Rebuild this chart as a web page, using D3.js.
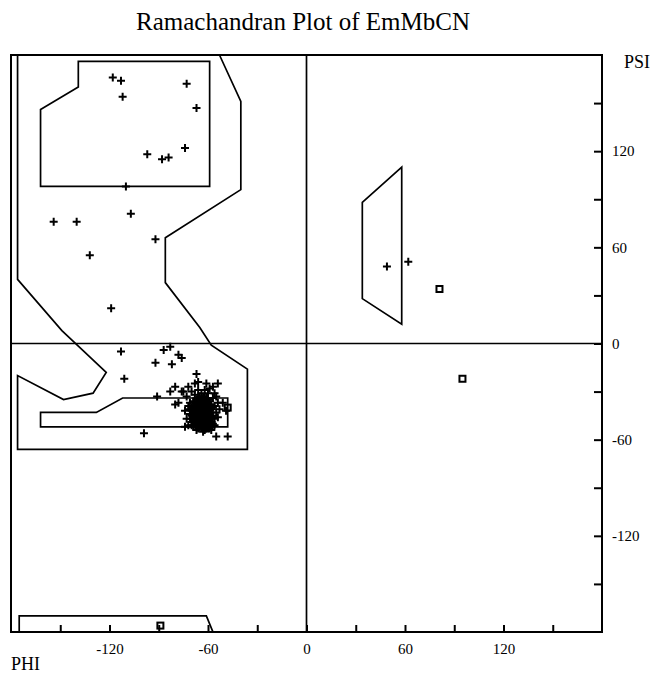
<!DOCTYPE html>
<html>
<head>
<meta charset="utf-8">
<script src="https://cdn.jsdelivr.net/npm/d3@7"></script>
<style>
  body { margin: 0; background: #fff; }
  text { font-family: "Liberation Serif", "DejaVu Serif", serif; fill: #000; }
</style>
</head>
<body>
<div id="chart"></div>
<script>
// regions of the plot, [phi, psi] in degrees
var outerRegion = [[-176,180],[-176,40],[-149,8],[-122,-18],[-130,-31],[-148,-35],[-176,-20],
  [-176,-66],[-36,-66],[-36,-16],[-58,-1],[-65,10],[-86,38],[-86,66],[-40,96],[-40,151],[-53,180]];
var betaCore = [[-139,176],[-59,176],[-59,98],[-162,98],[-162,146],[-139,160]];
var alphaCore = [[-162,-43],[-128,-43],[-112,-34],[-48,-34],[-48,-52],[-162,-52]];
var bottomRegion = [[-175,-180],[-175,-170],[-61,-170],[-57,-180]];
var leftHanded = [[58,110],[34,88],[34,28],[58,12]];

// residues (crosses)
var scattered = [[-118,166],[-113,164],[-112,154],[-73,162],[-67,147],[-97,118],[-88,115],[-84,116],
  [-74,122],[-110,98],[-154,76],[-140,76],[-107,81],[-92,65],[-132,55],[-119,22],[49,48],[62,51],
  [-113,-5],[-111,-22],[-87,-4],[-83,-2],[-78,-7],[-76,-9],[-92,-12],[-82,-13],[-67,-19],[-66,-24],
  [-68,-25],[-54,-25],[-80,-27],[-83,-30],[-75,-30],[-91,-33],[-80,-38],[-56,-31],[-51,-37],[-49,-42],
  [-99,-56],[-74,-52],[-55,-58],[-48,-58],[-59,-53]];
var helix = [[-64,-41],[-62,-43],[-66,-39],[-60,-40],[-63,-45],[-67,-44],[-61,-38],[-65,-36],[-59,-44],[-68,-40],
  [-62,-47],[-64,-49],[-66,-47],[-60,-48],[-58,-41],[-57,-45],[-69,-46],[-70,-42],[-63,-37],[-61,-34],
  [-67,-35],[-65,-33],[-59,-36],[-56,-39],[-55,-43],[-58,-49],[-62,-51],[-65,-52],[-68,-50],[-71,-44],
  [-72,-39],[-69,-36],[-64,-31],[-60,-31],[-57,-34],[-54,-37],[-54,-46],[-56,-51],[-60,-53],[-67,-54],
  [-70,-49],[-73,-47],[-63,-42],[-61,-42],[-65,-43],[-64,-39],[-62,-40],[-66,-42],[-63,-47],[-60,-45],
  [-67,-38],[-58,-38],[-61,-49],[-65,-46],[-69,-43],[-56,-47],[-71,-37],[-62,-36],[-66,-50],[-59,-51],
  [-74,-42],[-72,-51],[-58,-54],[-63,-55],[-68,-32],[-62,-29],[-70,-30],[-55,-33],[-53,-41],[-66,-29],
  [-73,-33],[-59,-28],[-76,-30],[-78,-37],[-72,-27],[-61,-25],[-57,-27],
  [-65,-40],[-63,-39],[-61,-41],[-64,-44],[-66,-45],[-62,-45],[-60,-42],[-67,-41],[-65,-48],[-63,-50],
  [-61,-46],[-59,-47],[-68,-47],[-66,-37],[-64,-35],[-62,-38],[-60,-37],[-58,-43],[-69,-39],[-67,-48],
  [-64,-46],[-62,-49],[-65,-38],[-63,-34],[-68,-42],[-70,-45],[-66,-44],[-60,-50],[-64,-52],[-67,-51],
  [-61,-52],[-57,-50],[-59,-39],[-70,-40],[-71,-47],[-65,-50],[-63,-53],[-69,-52],[-62,-33],[-66,-34],
  [-58,-46],[-57,-40],[-60,-35],[-68,-37],[-64,-37],[-62,-42],[-65,-44],[-63,-43],[-61,-44],[-66,-46],
  [-69,-48],[-67,-46],[-59,-42],[-71,-41],[-64,-47],[-60,-38],[-62,-54],[-66,-53],[-70,-51],[-58,-52]];
// glycines (squares)
var glycine = [[81,34],[95,-22],[-48,-40],[-89,-176]];

var tickValues = [-150,-120,-90,-60,-30,0,30,60,90,120,150];
var labelValues = [-120,-60,0,60,120];

(function() {
  var width = 661, height = 673;
  var pLeft = 11, pRight = 602, pTop = 55, pBottom = 632;

  var svg = d3.select('#chart').append('svg')
    .attr('width', width)
    .attr('height', height);

  var x = d3.scaleLinear().domain([-180,180]).range([pLeft, pRight]);
  var y = d3.scaleLinear().domain([-180,180]).range([pBottom, pTop]);

  var line = d3.line().x(function(d){ return x(d[0]); }).y(function(d){ return y(d[1]); });

  // title
  svg.append('text')
    .attr('x', 303).attr('y', 30)
    .attr('text-anchor', 'middle')
    .style('font-size', '25px')
    .text('Ramachandran Plot of EmMbCN');

  // regions
  [outerRegion, betaCore, alphaCore, bottomRegion, leftHanded].forEach(function(r){
    svg.append('path')
      .attr('d', line(r) + 'Z')
      .attr('fill', 'none')
      .attr('stroke', '#000')
      .attr('stroke-width', 1.7);
  });

  // zero lines
  svg.append('line')
    .attr('x1', x(0)).attr('x2', x(0)).attr('y1', pTop).attr('y2', pBottom)
    .attr('stroke', '#000').attr('stroke-width', 1.7);
  svg.append('line')
    .attr('x1', pLeft).attr('x2', pRight).attr('y1', y(0)).attr('y2', y(0))
    .attr('stroke', '#000').attr('stroke-width', 1.7);

  // frame
  svg.append('rect')
    .attr('x', pLeft).attr('y', pTop)
    .attr('width', pRight - pLeft).attr('height', pBottom - pTop)
    .attr('fill', 'none').attr('stroke', '#000').attr('stroke-width', 2);

  // axes
  var fmt = function(d){ return labelValues.indexOf(d) >= 0 ? d : ''; };

  var xAxis = svg.append('g')
    .attr('transform', 'translate(0,' + pBottom + ')')
    .call(d3.axisBottom(x).tickValues(tickValues).tickSize(-7).tickPadding(11).tickFormat(fmt));
  var yAxis = svg.append('g')
    .attr('transform', 'translate(' + pRight + ',0)')
    .call(d3.axisRight(y).tickValues(tickValues).tickSize(-8).tickPadding(10).tickFormat(fmt));

  [xAxis, yAxis].forEach(function(a){
    a.select('.domain').remove();
    a.selectAll('.tick line').attr('stroke', '#000').attr('stroke-width', 2);
    a.selectAll('.tick text')
      .style('font-family', '"Liberation Serif", serif')
      .style('font-size', '15px')
      .attr('fill', '#000');
  });

  svg.append('text').attr('x', 624).attr('y', 68).style('font-size', '18px').text('PSI');
  svg.append('text').attr('x', 11).attr('y', 670).style('font-size', '18px').text('PHI');

  // crosses
  svg.append('g').selectAll('path')
    .data(scattered.concat(helix))
    .enter().append('path')
    .attr('transform', function(d){ return 'translate(' + x(d[0]) + ',' + y(d[1]) + ')'; })
    .attr('d', 'M-4,0H4M0,-4V4')
    .attr('stroke', '#000')
    .attr('stroke-width', 2);

  // squares
  svg.append('g').selectAll('rect')
    .data(glycine)
    .enter().append('rect')
    .attr('x', function(d){ return x(d[0]) - 3; })
    .attr('y', function(d){ return y(d[1]) - 3; })
    .attr('width', 6).attr('height', 6)
    .attr('fill', 'none')
    .attr('stroke', '#000')
    .attr('stroke-width', 2);
})();
</script>
</body>
</html>
